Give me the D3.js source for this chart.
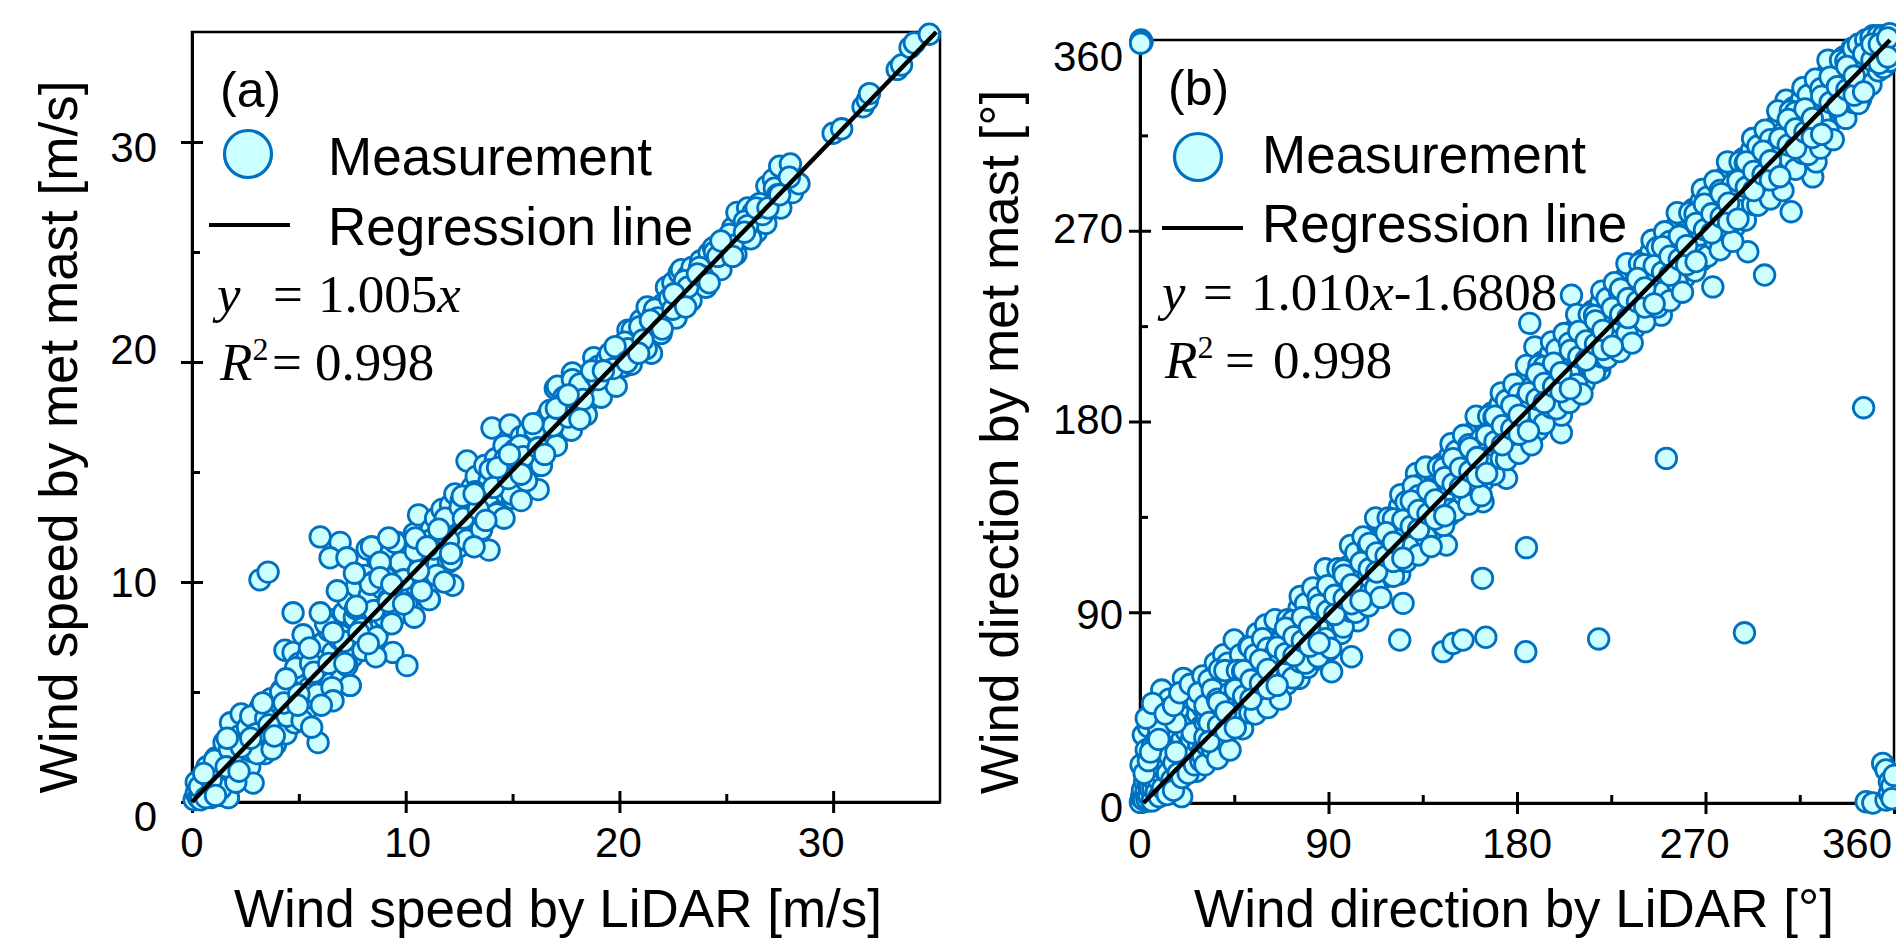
<!DOCTYPE html>
<html>
<head>
<meta charset="utf-8">
<script src="https://cdn.jsdelivr.net/npm/d3@7"></script>
<style>
  body { margin: 0; background: #fff; }
  svg { display: block; }
  .sans { font-family: "Liberation Sans", Arial, sans-serif; }
  .serif { font-family: "Liberation Serif", "Times New Roman", serif; }
</style>
</head>
<body>
<svg id="chart" width="1896" height="942"></svg>
<script>
// tick values
const speedMajor = [0, 10, 20, 30];
const speedMinor = [5, 15, 25];
const dirMajor = [0, 90, 180, 270, 360];
const dirMinor = [45, 135, 225, 315];

const legendLabels = ["Measurement", "Regression line"];
const panelTags = ["(a)", "(b)"];
const axisTitles = {
    speedX: "Wind speed by LiDAR [m/s]",
    speedY: "Wind speed by met mast [m/s]",
    dirX: "Wind direction by LiDAR [°]",
    dirY: "Wind direction by met mast [°]",
};

// regression y = slope * x + intercept
const speedFit = { slope: 1.005, intercept: 0, r2: "0.998" };
const dirFit = { slope: 1.010, intercept: -1.6808, r2: "0.998" };

// (a) wind speed, [LiDAR, met mast]
const speedPoints = [
    [0.1,0.1],[0.2,0.4],[0.3,0.2],[0.4,0.7],[0.5,0.3],[0.6,0.9],[0.7,0.5],[0.8,1.2],[0.9,0.4],[1.0,1.0],
    [1.1,0.6],[1.2,1.5],[1.3,0.9],[1.4,1.8],[1.5,1.2],[1.6,2.2],[1.7,0.2],[1.8,1.5],[1.9,2.6],[2.0,1.9],
    [0.4,0.1],[0.9,0.2],[1.3,0.3],[0.2,0.9],[0.7,1.6],[1.1,2.0],[1.5,2.7],[1.8,3.6],[2.2,3.0],[2.3,4.0],
    [2.1,1.2],[2.4,2.0],[2.5,2.7],[2.6,3.4],[2.7,1.6],[2.86,0.86],[2.8,2.3],[2.9,3.0],[3.0,3.8],[3.1,2.5],
    [3.2,4.3],[3.3,3.3],[3.4,2.2],[3.5,4.0],[3.6,3.0],[3.7,4.7],[3.8,3.6],[3.9,2.6],[4.0,4.4],[4.1,3.4],
    [4.2,5.1],[4.3,4.0],[4.35,6.9],[4.73,6.8],[4.4,3.1],[4.5,4.8],[4.6,5.6],[4.7,4.2],[4.8,3.6],[4.9,5.3],
    [5.0,6.3],[5.1,4.6],[5.2,5.8],[5.3,4.1],[5.4,6.6],[5.5,5.2],[5.6,6.0],[5.7,4.7],[5.8,7.1],[5.9,2.7],
    [5.9,5.6],[6.0,6.5],[6.1,5.0],[6.2,7.3],[6.3,6.0],[6.4,7.8],[6.5,5.4],[6.6,6.8],[6.7,8.3],[6.8,6.2],
    [6.9,7.4],[7.0,5.6],[7.1,8.6],[7.2,7.0],[7.3,9.2],[7.4,5.3],[7.4,7.8],[7.5,6.6],[7.6,8.4],[7.7,9.8],
    [7.8,7.3],[7.9,8.9],[8.0,6.9],[8.1,10.3],[8.2,8.1],[8.3,9.4],[8.4,7.6],[8.5,10.0],[8.6,8.7],[8.7,11.0],
    [8.8,7.9],[8.9,9.7],[9.0,8.4],[9.1,10.6],[9.2,9.2],[9.3,11.3],[9.4,6.8],[9.4,8.8],[9.5,10.1],[9.6,11.8],
    [9.7,9.5],[9.8,8.6],[9.9,10.8],[10.0,9.9],[10.06,6.2],[10.1,11.5],[10.2,9.3],[10.3,10.5],[10.4,12.2],[10.5,9.8],
    [10.6,13.05],[10.7,11.0],[10.8,10.2],[10.9,11.9],[11.0,10.6],[11.1,9.2],[11.2,12.4],[11.3,11.2],[11.4,12.9],[11.5,10.8],
    [11.6,11.8],[11.7,13.3],[11.8,11.4],[11.9,12.6],[12.0,10.9],[12.1,13.5],[12.2,9.85],[12.3,14.0],[12.3,12.0],[12.4,12.8],
    [12.5,11.6],[12.6,13.7],[12.7,12.4],[12.87,15.5],[12.9,13.2],[13.0,11.9],[13.1,14.3],[13.2,12.9],[13.3,14.8],[13.4,13.5],
    [13.5,12.3],[13.6,14.1],[13.7,15.3],[13.8,13.0],[13.9,11.45],[13.9,14.6],[14.04,17.0],[14.1,13.7],[14.2,15.6],[14.3,14.3],
    [14.4,13.2],[14.5,15.0],[14.6,16.2],[14.7,14.0],[14.88,17.14],[14.9,15.3],[15.0,13.8],[15.1,16.0],[15.2,14.7],[15.3,15.6],
    [15.4,16.6],[15.5,14.5],[15.6,15.9],[15.7,16.8],[15.8,16.2],[15.9,15.2],[16.0,16.4],[16.2,14.2],[16.2,17.2],[16.4,16.0],
    [16.5,16.7],[16.6,17.5],[16.8,16.4],[17.0,18.8],[17.0,17.0],[17.1,18.9],[17.2,17.8],[17.3,17.3],[17.4,16.9],[17.4,18.4],
    [17.6,17.6],[17.8,19.5],[17.8,19.2],[18.0,18.1],[18.2,18.8],[18.3,18.5],[18.5,18.9],[18.6,18.3],[18.8,20.2],[18.9,19.0],
    [19.0,19.8],[19.2,19.1],[19.4,20.1],[19.5,19.7],[19.7,20.4],[19.7,19.5],[19.9,19.9],[20.0,20.7],[20.2,19.8],[20.4,21.45],
    [20.5,20.5],[20.6,21.45],[20.8,20.6],[21.0,21.9],[21.1,21.2],[21.3,22.5],[21.3,20.7],[21.5,20.4],[21.6,22.2],[21.8,21.7],
    [22.0,22.6],[22.2,23.4],[22.4,22.1],[22.5,23.6],[22.8,24.05],[22.9,24.2],[23.0,22.9],[23.2,23.9],[23.4,24.3],[23.6,23.4],
    [23.8,24.6],[24.0,23.8],[24.2,24.95],[24.4,25.2],[24.6,24.3],[24.7,24.95],[25.0,25.2],[25.2,24.9],[25.3,26.1],[25.5,26.8],
    [25.8,25.6],[26.0,27.0],[26.25,26.8],[26.4,25.9],[26.7,26.45],[26.9,28.0],[27.2,28.3],[27.3,27.2],[27.5,28.9],[27.7,28.0],
    [28.0,29.0],[28.1,27.7],[28.4,28.1],[30.0,30.4],[30.4,30.6],[31.4,31.6],[31.6,31.9],[31.7,32.2],[33.0,33.3],[33.2,33.5],
    [33.6,34.3],[33.8,34.5],[34.5,34.9],[3.18,10.1],[3.56,10.45],[4.73,8.6],[6.0,12.05],[6.93,11.8],[6.46,11.1],[7.25,11.1],
    [8.2,11.5],[9.5,11.8],[11.1,9.2],[7.4,5.3],[1.7,0.2],
    [0.35,0.7],[0.65,0.2],[1.05,1.9],[1.35,0.6],[1.75,2.4],[2.05,0.9],[2.45,2.6],[2.75,3.9],[3.05,2.2],[3.45,3.8],
    [3.75,2.4],[4.15,5.0],[4.45,3.9],[4.85,6.1],[5.15,3.7],[5.55,6.3],[5.85,4.9],[6.25,8.1],[6.55,5.2],[6.95,7.6],
    [7.25,6.2],[7.65,8.8],[7.95,7.9],[8.35,9.9],[8.65,7.5],[9.05,10.2],[9.35,8.1],[9.75,10.9],[10.05,9.0],[10.45,11.4],
    [10.75,9.6],[11.15,11.9],[11.45,10.3],[11.85,12.9],[12.15,11.0],[12.55,13.4],[12.85,11.9],[13.25,14.1],[13.55,12.4],[13.95,15.1],
    [14.25,13.1],[14.65,15.6],[14.95,14.0],[15.35,16.2],[15.65,14.6],[16.05,16.9],[16.35,15.3],[16.75,17.8],[17.05,16.2],[17.45,18.2],
    [17.75,16.9],[18.15,19.0],[18.45,17.6],[18.85,19.4],[19.15,18.4],[19.55,20.4],[19.85,18.9],[20.25,20.9],[20.55,19.9],[20.95,21.6],
    [21.25,20.6],[21.65,22.4],[21.95,21.3],[22.35,22.9],[22.65,22.0],[23.05,23.7],[23.35,22.8],[23.75,24.3],[24.05,23.4],[24.45,25.0],
    [24.75,24.2],[25.15,25.8],[25.45,24.9],[25.85,26.4],[26.15,25.6],[26.55,27.2],[26.85,26.3],[27.25,27.9],[27.55,27.0],[27.95,28.4],
    [0.9,1.0],[1.6,1.6],[2.3,2.5],[3.0,3.1],[3.6,3.5],[4.3,4.5],[5.0,4.9],[5.7,5.9],[6.4,6.3],[7.1,7.3],
    [7.8,7.7],[8.5,8.7],[9.2,9.1],[9.9,10.1],[10.6,10.5],[11.3,11.5],[12.0,11.9],[12.7,12.9],[13.4,13.3],[14.1,14.3],
    [14.8,14.7],[15.5,15.7],[16.2,16.1],[16.9,17.1],[17.6,17.5],[18.3,18.3],[19.0,19.2],[19.7,19.7],[20.4,20.6],[21.1,21.0],
    [21.8,22.0],[22.5,22.4],[23.2,23.4],[23.9,23.9],[24.6,24.8],[25.3,25.3],[26.0,26.2],[26.7,26.7],[27.4,27.6],
    [5.2,7.6],[6.0,8.6],[6.8,9.6],[7.6,10.4],[8.4,11.6],[8.8,10.9],[9.2,12.0],[5.6,3.4],[6.6,4.6],[8.6,6.6],
    [10.4,8.4],[11.8,10.0],[13.2,11.6],[14.6,12.9],[15.4,13.7],
    [0.55,1.3],[1.1,0.3],[1.65,2.9],[2.2,1.4],[2.75,2.9],[3.3,4.5],[3.85,3.0],[4.4,5.6],[4.95,4.4],[5.5,7.0],
    [6.05,4.4],[6.6,7.7],[7.15,6.3],[7.7,8.9],[8.25,7.2],[8.8,10.2],[9.35,9.9],[9.9,9.0],[10.45,12.0],[11.0,11.6],
    [11.55,12.4],[12.1,11.3],[12.65,13.9],[13.2,14.0],[13.75,12.8],[14.3,15.2],[14.85,15.8],[15.4,14.9],[15.95,17.2],[16.5,15.8],
    [17.05,17.9],[17.6,18.5],[18.15,17.4],[18.7,19.6],[19.25,19.6],[19.8,20.7],[20.35,20.0],[20.9,20.4],[21.45,21.9],[22.0,21.5],
    [22.55,23.1],[23.1,22.5],[23.65,24.0],[24.2,23.6],[24.75,25.5],[25.3,24.8],[25.85,25.9],[26.4,27.0],[26.95,27.0],[27.5,27.6]
];

// (b) wind direction, [LiDAR, met mast]
const dirPoints = [
    [0.5,1],[1,4],[1.5,0.5],[2,8],[2.5,3],[3,12],[3.5,6],[4,1],[4.5,15],[5,9],
    [5.5,4],[6,18],[6.5,11],[7,2],[7.5,22],[8,14],[8.5,6],[9,25],[9.5,17],[10,9],
    [10.5,28],[11,20],[11.5,4],[12,24],[12.5,12],[13,31],[13.5,18],[14,8],[14.5,27],[15,21],
    [15.5,14],[16,33],[16.5,25],[17,10],[17.5,29],[18,19],[18.5,36],[19,27],[19.5,13],[20,31],
    [20.5,23],[21,40],[21.5,17],[22,34],[22.5,26],[23,43],[23.5,20],[24,37],[24.5,30],[25,46],
    [25.5,22],[26,39],[26.5,33],[27,15],[27.5,42],[28,28],[28.5,50],[29,36],[29.5,24],[30,45],
    [0.2,0.3],[0.8,2.5],[1.2,6],[1.8,1.5],[2.2,10],[2.8,5],[3.3,2],[3.8,9],[4.2,3.5],[4.8,7],
    [5.3,13],[5.8,1],[6.2,7],[6.8,14],[7.2,10],[7.8,5],[8.2,19],[8.8,11],[9.2,3],[9.8,22],
    [10.2,14],[10.8,7],[11.2,16],[12.2,19],[13.2,14],[14.2,22],[15.2,11],[16.2,19],[17.2,24],[18.2,14],
    [1.6,32.1],[6.4,40],[10.4,53.3],[7.2,44],[3,25],[4,36],[19.9,3],[20.7,58.8],[14,49],[0.5,18],
    [2,14],[4,20],[6,27],[8,30],[12,35],[15,40],[18,44],[22,50],[25,33],[27,48],
    [5,24],[9,34],[13,4],[16,6],[20,12],[23,14],[26,18],[29,20],[11,44],[17,38],
    [3,40],[6,47],[9,30],[12,42],[16,46],[19,52],[24,56],[30,60],[36,66],[40,70],
    [30,22],[31,38],[32,27],[32,40],[33,52],[34,41],[34,50],[35,30],[35,45],[36,48],
    [37,36],[37.4,21.8],[38,55],[38,42],[39,44],[40,33],[40,58],[41,51],[41,46],[42,40],
    [43,58],[44,47],[44,52],[45,36],[45,76.9],[46,54],[46,64],[47,43],[47,50],[48,62],
    [49,50],[50,40],[50,52],[51,58],[52,47],[52,70],[53,66],[53,56],[54,55],[55,44],
    [56,62],[56,57],[57,51],[58,70],[58,76],[59,58],[59,62],[60,48],[61,66],[62,55],
    [62,64],[63,74],[64,62],[64,80],[65,52],[65,66],[66,70],[67,59],[68,78],[68,70],
    [69,66],[70,56],[70,86],[71,74],[71,72],[72,63],[73,82],[74,70],[74,76],[75,60],
    [76,58.8],[76,78],[76,92],[77,67],[77,78],[78,86],[79,74],[80,64],[80,80],[81,82],
    [82,71],[82,98],[83,90],[83,84],[84,78],[85,68],[86,86],[86,87],[87,75],[88,94],
    [88,102],[89,82],[89,90],[90,72],[28,52],[33,58],[38,63],[42,66],[48,70],[52,74],
    [56,80],[60,84],
    [91.5,61.9],[92,96],[92,84],[94,88],[94,104],[96,80],[96,100],[98,108],[98,92],[100,86],
    [100,112],[101,69],[102,98],[102,106],[104,94],[104,116],[104,86],[106,110],[106,100],[108,120],
    [108,96],[110,104],[110,114],[112,126],[112,100],[114,110],[114,118],[116,106],[116,130],[118,122],
    [118,112],[120,134],[120,110],[122,118],[122,126],[124,108],[124,140],[124,76.9],[125.6,94.2],[126,130],
    [126,122],[128,118],[128,144],[130,134],[130,124],[132,148],[132,155.5],[132,120],[134,138],[134,128],
    [136,124],[136,152],[138,142],[138,134],[140,156],[140,128],[142,146],[142,138],[144,132],[144,160],
    [144.7,71.4],[146,150],[146.3,121.7],[146,142],[148,164],[148,136],[149.5,75.3],[150,154],[150,146],[152,140],
    [152,168],[154,158],[154,150],[154.2,76.9],[156,172],[156,144],[158,162],[158,154],[160,148],[160,176],
    [162,166],[162,158],[163.5,106],[164,180],[164,152],[163.8,142.1],[165.1,78.2],[166,170],[166,162],[168,156],
    [168,184],[170,174],[170,166],[172,188],[172,160],[174,178],[174,170],[175,153.2],[176,164],[176,192],
    [178,182],[178,174],[180,196],[180,168],[182,186],[182,178],[184,172],[184,200],[184.5,120.5],[184.2,71.4],
    [186,190],[186.1,226.3],[188,204],[188,182],[188.5,215.2],
    [190,176],[190,194],[192,208],[192,186],[194,198],[194,190],[196,182],[196,212],[198,202],[198,194],
    [200,216],[200,190],[201.2,174.7],[201.2,183],[202,206],[202,198],[204,194],[204,220],[206,210],[206,239.6],
    [208,224],[208,200],[210,214],[210,206],[212,198],[212,228],[214,218],[214,210],[216,232],[216,204],
    [218,222],[218,214],[219.5,204.2],[219,77.4],[220,236],[220,208],[222,226],[222,218],[224,212],[224,240],
    [226,230],[226,222],[228,244],[228,216],[230,234],[230,226],[232,220],[232,248],[234,238],[234,230],
    [236,252],[236,224],[238,242],[238,234],[240,228],[240,256],[242,246],[242,238],[244,260],[244,232],
    [246,250],[246,242],[248,236],[248,264],[248.9,230.2],[250,254],[250,246],[251.3,162.6],[252,268],[252,240],
    [254,258],[254,250],[256,244],[256,272],[258,262],[258,254],[260,276],[260,248],[262,266],[262,258],
    [264,252],[264,280],[266,270],[266,262],[268,284],[268,256],[270,274],[270,266],
    [272,260],[272,288],[273.5,243.5],[274,278],[274,270],[276,292],[276,264],[278,282],[278,274],[280,268],
    [280,296],[282,286],[282,278],[284,300],[284,272],[286,290],[286,282],[288,276],[288,304],[288.6,80.3],
    [290,294],[290.2,260.1],[292,308],[292,284],[294,298],[294,290],[296,284],[296,312],[298,302],[298.2,249.1],
    [300,316],[300,292],[302,306],[302,298],[304,292],[304,320],[306,310],[306,302],[308,324],[308.5,331.6],
    [310,314],[310.9,279],[312,300],[312,328],[314,318],[314,310],[316,332],[316,306],[318,322],[318,314],
    [320,308],[320,336],[319.7,317.5],[321.2,295.4],[322.8,302.5],[322,326],[322,318],[324,340],[324,314],[326,330],
    [326,322],[328,316],[328,344],[330,334],[330,326],[332,348],[331.6,349.7],[334,338],[334,330],[336,324],
    [336,352],[338,342],[338,334],[340,356],[340.3,334.8],[342,346],[342,338],[344,332],[344,358],[345.5,186.5],
    [346,350],[346,342],[348,356],[348,340],[350,362],[350,352],[352,348],[352,358],[354,360],[354,352],
    [356,356],[356,362],[358,360],[358,354],[360,362],[360,358],
    [354.6,18.7],[356.2,15.6],[357.8,10.0],[346.7,0.6],[349.9,0],[356.2,1.4],[357.8,4.6],[359,8],[360,13],[359,2],
    [0.5,360],[1,359],[0.3,358.5],
    [31,31],[31,46],[31,18],[34.5,37.5],[34.5,53.5],[34.5,25.5],[37,35],[37,49],[37,21],[40.5,46.5],
    [40.5,62.5],[40.5,29.5],[43,44],[43,52],[43,25],[46.5,42.5],[46.5,62.5],[46.5,39.5],[49,57],[49,62],
    [49,35],[52.5,51.5],[52.5,73.5],[52.5,42.5],[55,55],[55,70],[55,42],[58.5,61.5],[58.5,77.5],[58.5,49.5],
    [61,59],[61,73],[61,45],[64.5,70.5],[64.5,86.5],[64.5,53.5],[67,68],[67,76],[67,49],[70.5,66.5],
    [70.5,86.5],[70.5,63.5],[73,81],[73,86],[73,59],[76.5,75.5],[76.5,97.5],[76.5,66.5],[79,79],[79,94],
    [79,66],[82.5,85.5],[82.5,101.5],[82.5,73.5],[85,83],[85,97],[85,69],[88.5,94.5],[88.5,110.5],[88.5,77.5],
    [91,92],[91,100],[91,73],[94.5,90.5],[94.5,110.5],[94.5,87.5],[97,105],[97,110],[97,83],[100.5,99.5],
    [100.5,121.5],[100.5,90.5],[103,103],[103,118],[103,90],[106.5,109.5],[106.5,125.5],[106.5,97.5],[109,107],[109,121],
    [109,93],[112.5,118.5],[112.5,134.5],[112.5,101.5],[115,116],[115,124],[115,97],[118.5,114.5],[118.5,134.5],[118.5,111.5],
    [121,129],[121,134],[121,107],[124.5,123.5],[124.5,145.5],[124.5,114.5],[127,127],[127,142],[127,114],[130.5,133.5],
    [130.5,149.5],[130.5,121.5],[133,131],[133,145],[133,117],[136.5,142.5],[136.5,158.5],[136.5,125.5],[139,140],[139,148],
    [139,121],[142.5,138.5],[142.5,158.5],[142.5,135.5],[145,153],[145,158],[145,131],[148.5,147.5],[148.5,169.5],[148.5,138.5],
    [151,151],[151,166],[151,138],[154.5,157.5],[154.5,173.5],[154.5,145.5],[157,155],[157,169],[157,141],[160.5,166.5],
    [160.5,182.5],[160.5,149.5],[163,164],[163,172],[163,145],[166.5,162.5],[166.5,182.5],[166.5,159.5],[169,177],[169,182],
    [169,155],[172.5,171.5],[172.5,193.5],[172.5,162.5],[175,175],[175,190],[175,162],[178.5,181.5],[178.5,197.5],[178.5,169.5],
    [181,179],[181,193],[181,165],[184.5,190.5],[184.5,206.5],[184.5,173.5],[187,188],[187,196],[187,169],[190.5,186.5],
    [190.5,206.5],[190.5,183.5],[193,201],[193,206],[193,179],[196.5,195.5],[196.5,217.5],[196.5,186.5],[199,199],[199,214],
    [199,186],[202.5,205.5],[202.5,221.5],[202.5,193.5],[205,203],[205,217],[205,189],[208.5,214.5],[208.5,230.5],[208.5,197.5],
    [211,212],[211,220],[211,193],[214.5,210.5],[214.5,230.5],[214.5,207.5],[217,225],[217,230],[217,203],[220.5,219.5],
    [220.5,241.5],[220.5,210.5],[223,223],[223,238],[223,210],[226.5,229.5],[226.5,245.5],[226.5,217.5],[229,227],[229,241],
    [229,213],[232.5,238.5],[232.5,254.5],[232.5,221.5],[235,236],[235,244],[235,217],[238.5,234.5],[238.5,254.5],[238.5,231.5],
    [241,249],[241,254],[241,227],[244.5,243.5],[244.5,265.5],[244.5,234.5],[247,247],[247,262],[247,234],[250.5,253.5],
    [250.5,269.5],[250.5,241.5],[253,251],[253,265],[253,237],[256.5,262.5],[256.5,278.5],[256.5,245.5],[259,260],[259,268],
    [259,241],[262.5,258.5],[262.5,278.5],[262.5,255.5],[265,273],[265,278],[265,251],[268.5,267.5],[268.5,289.5],[268.5,258.5],
    [271,271],[271,286],[271,258],[274.5,277.5],[274.5,293.5],[274.5,265.5],[277,275],[277,289],[277,261],[280.5,286.5],
    [280.5,302.5],[280.5,269.5],[283,284],[283,292],[283,265],[286.5,282.5],[286.5,302.5],[286.5,279.5],[289,297],[289,302],
    [289,275],[292.5,291.5],[292.5,313.5],[292.5,282.5],[295,295],[295,310],[295,282],[298.5,301.5],[298.5,317.5],[298.5,289.5],
    [301,299],[301,313],[301,285],[304.5,310.5],[304.5,326.5],[304.5,293.5],[307,308],[307,316],[307,289],[310.5,306.5],
    [310.5,326.5],[310.5,303.5],[313,321],[313,326],[313,299],[316.5,315.5],[316.5,337.5],[316.5,306.5],[319,319],[319,334],
    [319,306],[322.5,325.5],[322.5,341.5],[322.5,313.5],[325,323],[325,337],[325,309],[328.5,334.5],[328.5,350.5],[328.5,317.5],
    [331,332],[331,340],[331,313],[334.5,330.5],[334.5,350.5],[334.5,327.5],[337,345],[337,350],[337,323],[340.5,339.5],
    [340.5,356],[340.5,330.5],[343,343],[343,358],[343,330],[346.5,349.5],[346.5,360],[346.5,337.5],[349,347],[349,361],
    [349,339],[352.5,355.5],[352.5,362],[352.5,345.5],[355,356],[355,362],[355,347],[358,357],[358,363],[358,350],
    [33,38],[33,29],[37.5,47.5],[37.5,36.5],[41,34],[41,43],[45.5,53.5],[45.5,35.5],[49.5,50.5],[49.5,62.5],
    [53,58],[53,49],[57.5,67.5],[57.5,56.5],[61,54],[61,63],[65.5,73.5],[65.5,55.5],[69.5,70.5],[69.5,82.5],
    [73.5,78.5],[73.5,69.5],[77.5,87.5],[77.5,76.5],[81,74],[81,83],[85.5,93.5],[85.5,75.5],[89.5,90.5],[89.5,102.5],
    [93,98],[93,89],[97.5,107.5],[97.5,96.5],[101,94],[101,103],[105.5,113.5],[105.5,95.5],[109.5,110.5],[109.5,122.5],
    [113,118],[113,109],[117.5,127.5],[117.5,116.5],[121,114],[121,123],[125.5,133.5],[125.5,115.5],[129.5,130.5],[129.5,142.5],
    [133,138],[133,129],[137.5,147.5],[137.5,136.5],[141,134],[141,143],[145.5,153.5],[145.5,135.5],[149.5,150.5],[149.5,162.5],
    [153,158],[153,149],[157.5,167.5],[157.5,156.5],[161,154],[161,163],[165.5,173.5],[165.5,155.5],[169.5,170.5],[169.5,182.5],
    [173,178],[173,169],[177.5,187.5],[177.5,176.5],[181,174],[181,183],[185.5,193.5],[185.5,175.5],[189.5,190.5],[189.5,202.5],
    [193,198],[193,189],[197.5,207.5],[197.5,196.5],[201,194],[201,203],[205.5,213.5],[205.5,195.5],[209.5,210.5],[209.5,222.5],
    [213,218],[213,209],[217.5,227.5],[217.5,216.5],[221,214],[221,223],[225.5,233.5],[225.5,215.5],[229.5,230.5],[229.5,242.5],
    [233,238],[233,229],[237.5,247.5],[237.5,236.5],[241,234],[241,243],[245.5,253.5],[245.5,235.5],[249.5,250.5],[249.5,262.5],
    [253,258],[253,249],[257.5,267.5],[257.5,256.5],[261,254],[261,263],[265.5,273.5],[265.5,255.5],[269.5,270.5],[269.5,282.5],
    [273,278],[273,269],[277.5,287.5],[277.5,276.5],[281,274],[281,283],[285.5,293.5],[285.5,275.5],[289.5,290.5],[289.5,302.5],
    [293,298],[293,289],[297.5,307.5],[297.5,296.5],[301,294],[301,303],[305.5,313.5],[305.5,295.5],[309.5,310.5],[309.5,322.5],
    [313,318],[313,309],[317.5,327.5],[317.5,316.5],[321,314],[321,323],[325.5,333.5],[325.5,315.5],[329.5,330.5],[329.5,342.5],
    [333,338],[333,329],[337.5,347.5],[337.5,336.5],[341,334],[341,343],[345.5,353.5],[345.5,335.5],[349.5,350.5],[349.5,358],
    [353,358],[353,349],[357,361],[357,352]
];

const svg = d3.select("#chart");

const panels = [
    {
        tag: panelTags[0], left: 192, top: 32, right: 940, bottom: 802,
        domain: [0, 35], major: speedMajor, minor: speedMinor,
        points: speedPoints, fit: speedFit,
        xTitle: axisTitles.speedX, yTitle: axisTitles.speedY,
        xTitlePos: [558, 927], yTitlePos: [77, 437],
        yLabelEnd: 157,
        xNudge: { 10: 2, 20: -1, 30: -12 },
        yNudge: { 0: 14, 20: -13, 30: 5 },
        legend: { cx: 248, cy: 154, tx: 328, t1: 175, lx0: 209, lx1: 290, ly: 225, t2: 245 },
        tagPos: [220, 107],
        eq: { x: 217, base: 312, eqX: 273, numX: 318, text: "1.005", tail: "" },
        r2: { x: 220, base: 380, eqX: 272, numX: 315 },
    },
    {
        tag: panelTags[1], left: 1140, top: 40, right: 1894, bottom: 803,
        domain: [0, 360], major: dirMajor, minor: dirMinor,
        points: dirPoints, fit: dirFit,
        xTitle: axisTitles.dirX, yTitle: axisTitles.dirY,
        xTitlePos: [1514, 927], yTitlePos: [1018, 442],
        yLabelEnd: 1123,
        xNudge: { 270: -11, 360: -37 },
        yNudge: { 0: 4, 90: 2, 180: -3, 270: -3, 360: 16 },
        legend: { cx: 1198, cy: 157, tx: 1262, t1: 173, lx0: 1162, lx1: 1243, ly: 228, t2: 242 },
        tagPos: [1168, 105],
        eq: { x: 1162, base: 310, eqX: 1203, numX: 1251, text: "1.010", tail: "-1.6808" },
        r2: { x: 1165, base: 378, eqX: 1225, numX: 1273 },
    },
];

const fillColor = "#ccffff";
const strokeColor = "#0070c0";

function drawPanel(p) {
    const w = p.right - p.left;
    const h = p.bottom - p.top;
    const x = d3.scaleLinear().domain(p.domain).range([0, w]);
    const y = d3.scaleLinear().domain(p.domain).range([h, 0]);

    const g = svg.append("g").attr("transform", `translate(${p.left}, ${p.top})`);

    // frame
    g.append("rect")
        .attr("width", w).attr("height", h)
        .attr("fill", "none").attr("stroke", "#000").attr("stroke-width", 2.5);

    // major ticks, outward and inward
    const xOut = g.append("g").attr("transform", `translate(0, ${h})`)
        .call(d3.axisBottom(x).tickValues(p.major).tickSize(11).tickSizeOuter(0).tickFormat(""));
    const xIn = g.append("g").attr("transform", `translate(0, ${h})`)
        .call(d3.axisBottom(x).tickValues(p.major).tickSize(-11).tickSizeOuter(0).tickFormat(""));
    const xMin = g.append("g").attr("transform", `translate(0, ${h})`)
        .call(d3.axisBottom(x).tickValues(p.minor).tickSize(-8).tickSizeOuter(0).tickFormat(""));
    const yOut = g.append("g")
        .call(d3.axisLeft(y).tickValues(p.major).tickSize(11).tickSizeOuter(0).tickFormat(""));
    const yIn = g.append("g")
        .call(d3.axisLeft(y).tickValues(p.major).tickSize(-11).tickSizeOuter(0).tickFormat(""));
    const yMin = g.append("g")
        .call(d3.axisLeft(y).tickValues(p.minor).tickSize(-8).tickSizeOuter(0).tickFormat(""));
    [xIn, xMin, yIn, yMin].forEach((a) => a.select(".domain").remove());
    [xOut, yOut].forEach((a) => a.select(".domain").attr("stroke", "#000").attr("stroke-width", 3));
    g.selectAll(".tick line").attr("stroke", "#000").attr("stroke-width", 3);

    // tick labels
    g.selectAll(".xlab").data(p.major).enter().append("text")
        .attr("class", "sans")
        .attr("x", (d) => x(d) + (p.xNudge[d] || 0))
        .attr("y", h + 55)
        .attr("text-anchor", "middle")
        .attr("font-size", 42)
        .text((d) => d);
    g.selectAll(".ylab").data(p.major).enter().append("text")
        .attr("class", "sans")
        .attr("x", p.yLabelEnd - p.left)
        .attr("y", (d) => y(d) + 15 + (p.yNudge[d] || 0))
        .attr("text-anchor", "end")
        .attr("font-size", 42)
        .text((d) => d);

    // points
    g.append("g").selectAll("circle").data(p.points).enter().append("circle")
        .attr("cx", (d) => x(d[0]))
        .attr("cy", (d) => y(d[1]))
        .attr("r", 10.3)
        .attr("fill", fillColor)
        .attr("stroke", strokeColor)
        .attr("stroke-width", 2.8);

    // regression line, kept inside the frame
    const f = p.fit;
    const x0 = Math.max(p.domain[0], (p.domain[0] - f.intercept) / f.slope);
    const x1 = Math.min(p.domain[1], (p.domain[1] - f.intercept) / f.slope);
    const line = d3.line().x((d) => x(d)).y((d) => y(f.slope * d + f.intercept));
    g.append("path")
        .attr("d", line([x0, x1]))
        .attr("fill", "none")
        .attr("stroke", "#000")
        .attr("stroke-width", 4.5);

    // axis titles
    svg.append("text")
        .attr("class", "sans")
        .attr("x", p.xTitlePos[0]).attr("y", p.xTitlePos[1])
        .attr("text-anchor", "middle")
        .attr("font-size", 53)
        .text(p.xTitle);
    svg.append("text")
        .attr("class", "sans")
        .attr("transform", `translate(${p.yTitlePos[0]}, ${p.yTitlePos[1]}) rotate(-90)`)
        .attr("text-anchor", "middle")
        .attr("font-size", 53)
        .text(p.yTitle);

    // panel tag
    svg.append("text")
        .attr("class", "sans")
        .attr("x", p.tagPos[0]).attr("y", p.tagPos[1])
        .attr("font-size", 50)
        .text(p.tag);

    // legend
    const L = p.legend;
    svg.append("circle")
        .attr("cx", L.cx).attr("cy", L.cy).attr("r", 23.5)
        .attr("fill", fillColor).attr("stroke", strokeColor).attr("stroke-width", 3.2);
    svg.append("text").attr("class", "sans")
        .attr("x", L.tx).attr("y", L.t1).attr("font-size", 53)
        .text(legendLabels[0]);
    svg.append("line")
        .attr("x1", L.lx0).attr("x2", L.lx1).attr("y1", L.ly).attr("y2", L.ly)
        .attr("stroke", "#000").attr("stroke-width", 4);
    svg.append("text").attr("class", "sans")
        .attr("x", L.tx).attr("y", L.t2).attr("font-size", 53)
        .text(legendLabels[1]);

    // equation
    const E = p.eq;
    const eq = svg.append("text").attr("class", "serif")
        .attr("y", E.base).attr("font-size", 53);
    eq.append("tspan").attr("x", E.x).attr("font-style", "italic").text("y");
    eq.append("tspan").attr("x", E.eqX).text("=");
    eq.append("tspan").attr("x", E.numX).text(E.text);
    eq.append("tspan").attr("font-style", "italic").text("x");
    if (E.tail) eq.append("tspan").text(E.tail);

    const R = p.r2;
    const r2 = svg.append("text").attr("class", "serif")
        .attr("y", R.base).attr("font-size", 53);
    r2.append("tspan").attr("x", R.x).attr("font-style", "italic").text("R");
    r2.append("tspan").attr("font-size", 32).attr("dy", -20).text("2");
    r2.append("tspan").attr("x", R.eqX).attr("dy", 20).text("=");
    r2.append("tspan").attr("x", R.numX).text(f.r2);
}

panels.forEach(drawPanel);
</script>
</body>
</html>
